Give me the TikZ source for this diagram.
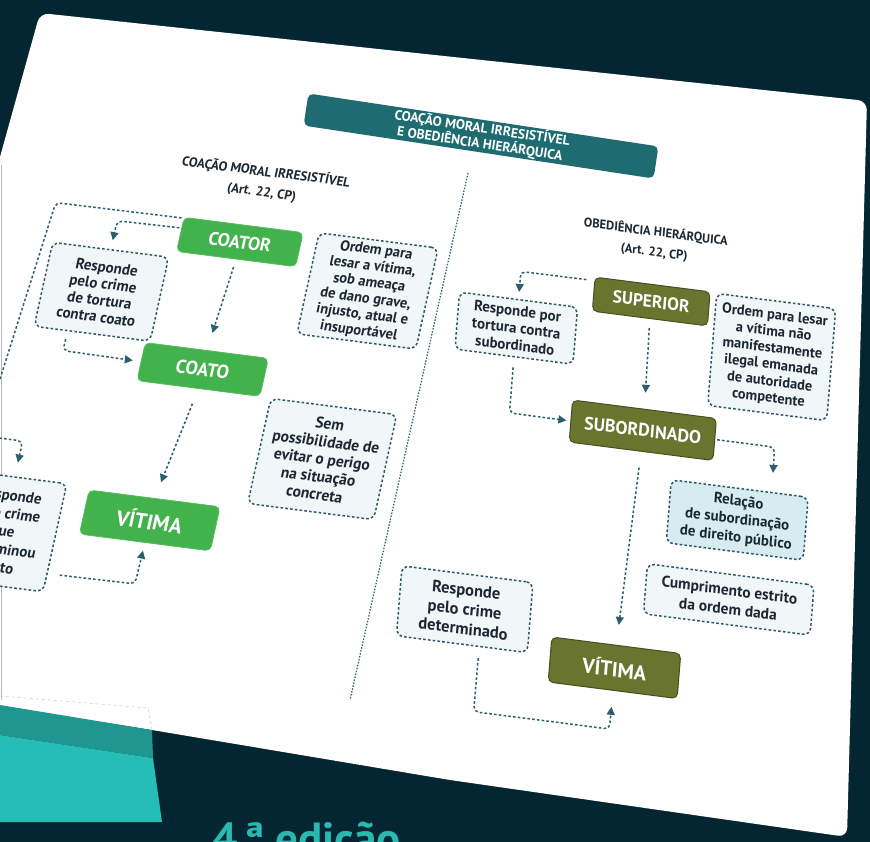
\documentclass[tikz,border=0pt]{standalone}
\usepackage{fontspec}
\setmainfont{PT Sans}
\usetikzlibrary{arrows.meta}
\definecolor{bg}{HTML}{042532}
\definecolor{dashc}{HTML}{2C5866}
\definecolor{conc}{HTML}{2A5F6C}
\definecolor{boxfill}{HTML}{F1F6F8}
\definecolor{relfill}{HTML}{D6ECF1}
\definecolor{txt}{HTML}{1B2731}
\definecolor{grn}{HTML}{42B24C}
\definecolor{grnb}{HTML}{55BC5E}
\definecolor{olv}{HTML}{69742F}
\definecolor{olvb}{HTML}{46501F}
\definecolor{bann}{HTML}{1E6C71}
\definecolor{tealA}{HTML}{25BDB6}
\definecolor{tealB}{HTML}{1F9690}
\definecolor{edc}{HTML}{2AB9B1}
\begin{document}
\begin{tikzpicture}[x=1pt,y=1pt,
  dbox/.style={draw=dashc, line width=1.5pt, dash pattern=on 2.6pt off 2.2pt, fill=boxfill, rounded corners=7pt, align=center, text=txt, font=\fontsize{15}{16.5}\selectfont\bfseries, inner sep=1pt},
  gbox/.style={fill=grn, draw=grnb, line width=0.8pt, rounded corners=5pt, text=white, font=\fontsize{18}{20}\selectfont\bfseries, inner sep=1pt},
  obox/.style={fill=olv, draw=olvb, line width=1pt, rounded corners=5pt, text=white, font=\fontsize{17.5}{20}\selectfont\bfseries, inner sep=1pt},
  conn/.style={draw=conc, line width=1.5pt, dash pattern=on 2.6pt off 2.2pt, rounded corners=5pt, -{Triangle[length=8pt,width=8pt]}},
  head/.style={align=center, text=txt, font=\fontsize{13}{20}\selectfont\bfseries},
  banner/.style={fill=bann, rounded corners=5pt, text=white, align=center, minimum width=354, minimum height=29, inner sep=1pt, font=\fontsize{13.6}{13.8}\selectfont\bfseries},
  divline/.style={draw=conc, line width=1.2pt, dash pattern=on 1.5pt off 1.5pt}
  ]
\useasboundingbox (0,0) rectangle (870,-842);
\clip (0,0) rectangle (870,-842);
% background and card
\fill[bg] (0,0) rectangle (870,-842);
\fill[white, rounded corners=9pt] (40,-13) -- (867,-101) -- (847,-837) -- (450,-780) -- (152,-730) -- (-20,-703) -- (-20,-229) -- cycle;
\draw[gray!55, line width=1.4pt] (1.2,-165) -- (1.2,-700);
\draw[gray!35, line width=0.6pt, dashed] (0,-696) -- (148,-708) -- (152,-730);
\fill[tealB] (0,-705) -- (152,-730) -- (153,-758) -- (0,-735) -- cycle;
\fill[tealA] (0,-735) -- (153,-758) -- (162,-822) -- (0,-822) -- cycle;
\node[anchor=base west, text=edc, font=\fontsize{45}{50}\selectfont\bfseries, inner sep=0] (ed) at (212,-854) {4\,ª edição};
% title banner
\node[banner, rotate=-8.6] (banner) at (481,-136) {COAÇÃO MORAL IRRESISTÍVEL\\E OBEDIÊNCIA HIERÁRQUICA};
% divider
\draw[divline] (468,-173) -- (350,-700);
% ---------------- left part
\begin{scope}[cm={0.992,-0.127,0.22,1,(200pt,-400pt)}, transform shape]
  \node[head] (lhead) at (15.7,220) {COAÇÃO MORAL IRRESISTÍVEL\\(Art. 22, CP)};
  \node[gbox, minimum width=120, minimum height=34] (coator) at (5,158.6) {COATOR};
  \node[dbox, minimum width=117, minimum height=84] (resp1) at (-120,93) {Responde\\pelo crime\\de tortura\\contra coato};
  \node[dbox, minimum width=120, minimum height=101, font=\fontsize{14.5}{16}\selectfont\bfseries] (ordem1) at (140.7,126.9) {Ordem para\\lesar a vítima,\\sob ameaça\\de dano grave,\\injusto, atual e\\insuportável};
  \node[gbox, minimum width=124, minimum height=38, font=\fontsize{18.5}{20}\selectfont\bfseries] (coato) at (-4,30) {COATO};
  \node[dbox, minimum width=127, minimum height=105, font=\fontsize{15.5}{17.5}\selectfont\bfseries] (sem) at (132.6,-42.2) {Sem\\possibilidade de\\evitar o perigo\\na situação\\concreta};
  \node[gbox, minimum width=132, minimum height=44, font=\fontsize{21}{22}\selectfont\bfseries] (vitima1) at (-23.3,-123.4) {VÍTIMA};
  \node[dbox, minimum width=105, minimum height=108, font=\fontsize{15}{18}\selectfont\bfseries] (resp3) at (-165,-152) {Responde\\pelo crime\\que\\determinou\\o fato};
  \draw[conn, shorten <=8pt, shorten >=18pt] (coator.south) -- (coato.north);
  \draw[conn, shorten <=16pt, shorten >=17pt] (coato.south) -- (vitima1.north);
  \draw[conn, shorten <=2pt, shorten >=9pt] (coator.174) -- (-120,164) -- (resp1.north);
  \draw[conn, shorten <=2pt, shorten >=14pt] (coator.165) -- (-184,174) -- (-206,-62) -- (-165,-62) -- (resp3.north);
  \draw[conn, shorten <=8pt, shorten >=8pt] (resp1.240) -- (-145,31) -- (coato.west);
  \draw[conn, shorten <=12pt, shorten >=8pt] (resp3.326) -- (-24,-187) -- (vitima1.south);
\end{scope}
% ---------------- right part
\begin{scope}[cm={0.992,-0.127,0.08,1,(640pt,-440pt)}, transform shape]
  \node[head, font=\fontsize{12.6}{20}\selectfont\bfseries] (rhead) at (-0.8,197.9) {OBEDIÊNCIA HIERÁRQUICA\\(Art. 22, CP)};
  \node[obox, minimum width=116, minimum height=34] (superior) at (0.15,138.5) {SUPERIOR};
  \node[dbox, minimum width=119, minimum height=57, font=\fontsize{15}{17}\selectfont\bfseries] (resp2) at (-132.4,95) {Responde por\\tortura contra\\subordinado};
  \node[dbox, minimum width=120, minimum height=112, font=\fontsize{14.5}{16.5}\selectfont\bfseries] (ordem2) at (124.8,98.8) {Ordem para lesar\\a vítima não\\manifestamente\\ilegal emanada\\de autoridade\\competente};
  \node[obox, minimum width=145, minimum height=42, font=\fontsize{18}{20}\selectfont\bfseries] (subord) at (2,10) {SUBORDINADO};
  \node[dbox, fill=relfill, minimum width=138, minimum height=63, font=\fontsize{15}{18}\selectfont\bfseries] (relacao) at (103.4,-66.9) {Relação\\de subordinação\\de direito público};
  \node[dbox, minimum width=168, minimum height=50, font=\fontsize{15.5}{19}\selectfont\bfseries] (cumpr) at (101.3,-146.6) {Cumprimento estrito\\da ordem dada};
  \node[dbox, minimum width=132, minimum height=70, font=\fontsize{16.5}{19.5}\selectfont\bfseries] (resp4) at (-161.4,-189.7) {Responde\\pelo crime\\determinado};
  \node[obox, minimum width=130, minimum height=45, font=\fontsize{20.5}{22}\selectfont\bfseries] (vitima2) at (-7.3,-228.7) {VÍTIMA};
  \draw[conn, shorten <=8pt, shorten >=7pt] (superior.167) -- (-132.4,151.7) -- (resp2.north);
  \draw[conn, shorten <=10pt, shorten >=4pt] (resp2.south) -- (-132.4,10.3) -- (subord.west);
  \draw[conn, shorten <=9pt, shorten >=16pt] (superior.south) -- (subord.north);
  \draw[conn, shorten <=2pt, shorten >=19pt] (subord.east) -- (134.9,10) -- (relacao.45);
  \draw[conn, shorten <=16pt, shorten >=20pt] (subord.south) -- (vitima2.north);
  \draw[conn, shorten <=11pt, shorten >=16pt] (resp4.296) -- (-144.3,-290) -- (-7.3,-290) -- (vitima2.south);
\end{scope}
\end{tikzpicture}
\end{document}
